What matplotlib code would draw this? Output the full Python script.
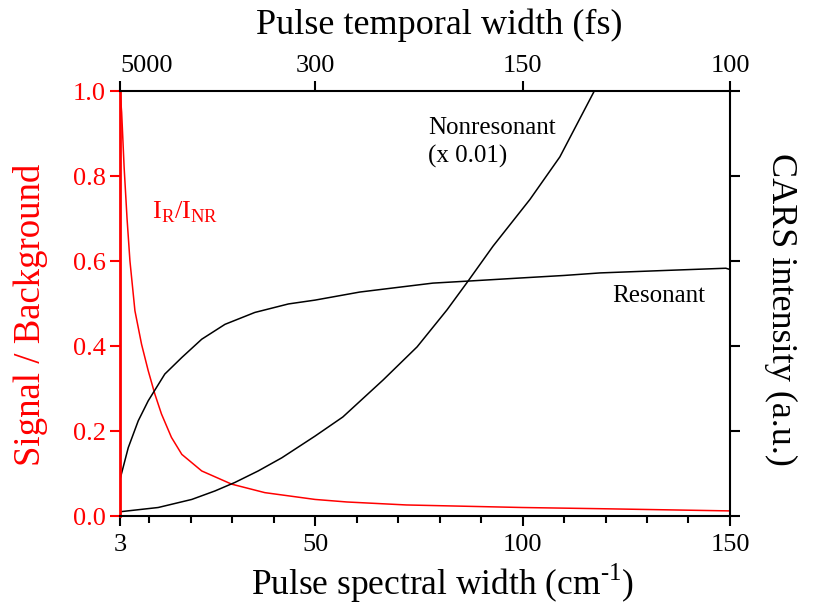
import numpy as np
import matplotlib
matplotlib.use("Agg")
import matplotlib.pyplot as plt

plt.rcParams['font.family'] = 'Liberation Serif'
plt.rcParams['mathtext.fontset'] = 'custom'
plt.rcParams['mathtext.rm'] = 'Liberation Serif'

# pulse spectral width (cm^-1) and the three curves
wn_ratio = [3, 3.4, 4.0, 4.7, 5.4, 6.6, 8.2, 9.8, 11.4, 13.0, 15.4, 17.9, 22.7, 29.9,
            37.9, 50, 57.7, 72, 100, 120, 150]
ratio = [1.0, 0.95, 0.82, 0.70, 0.60, 0.483, 0.404, 0.342, 0.287, 0.24, 0.185, 0.145,
         0.106, 0.075, 0.055, 0.039, 0.033, 0.026, 0.02, 0.017, 0.012]

wn_res = [3, 5.0, 7.4, 9.8, 13.8, 17.9, 22.7, 28.3, 35.5, 43.6, 50, 60.8, 70, 78.4,
          87.3, 99.4, 110, 118.7, 135, 149, 150]
resonant = [0.086, 0.161, 0.224, 0.271, 0.334, 0.373, 0.416, 0.451, 0.479, 0.499, 0.508,
            0.527, 0.538, 0.548, 0.553, 0.56, 0.566, 0.572, 0.578, 0.583, 0.58]

wn_nr = [3, 12.2, 20.3, 25.9, 30.7, 36.3, 42, 50, 56.7, 66.4, 74.6, 81.8, 86.9, 92.9,
         101.8, 109, 117.3]
nonres = [0.010, 0.020, 0.039, 0.059, 0.079, 0.106, 0.137, 0.188, 0.233, 0.32, 0.398,
          0.485, 0.553, 0.635, 0.745, 0.845, 1.0]

bottom_ticks = [3, 50, 100, 150]
top_labels = ['5000', '300', '150', '100']
y_ticks = [0.0, 0.2, 0.4, 0.6, 0.8, 1.0]

fig = plt.figure(figsize=(8.14, 6.08), dpi=100)
ax = fig.add_axes([0.1474, 0.1513, 0.7494, 0.6990])

ax.plot(wn_ratio, ratio, color='red', lw=1.1)
ax.plot(wn_res, resonant, color='black', lw=1.1)
ax.plot(wn_nr, nonres, color='black', lw=1.1)

ax.set_xlim(3, 150)
ax.set_ylim(0, 1.0)
ax.set_xticks(bottom_ticks)
ax.set_xticks(np.arange(10, 150, 10), minor=True)
ax.set_yticks(y_ticks)
ax.set_yticklabels(['%.1f' % v for v in y_ticks])

for s in ['top', 'bottom', 'right']:
    ax.spines[s].set_linewidth(1.5)
ax.spines['left'].set_color('red')
ax.spines['left'].set_linewidth(2.0)

ax.tick_params(axis='x', which='major', direction='out', length=7, width=1.5,
               labelsize=19, pad=6)
ax.tick_params(axis='x', which='minor', direction='out', length=5, width=1.5)
ax.tick_params(axis='y', direction='out', length=7, width=1.5, colors='red',
               labelsize=19, pad=3)

ax.set_xlabel('Pulse spectral width (cm$^{\\text{-1}}$)', fontsize=25.5, labelpad=4)
ax.xaxis.label.set_x(0.528)
ax.set_ylabel('Signal / Background', fontsize=26.5, color='red', labelpad=18)
ax.yaxis.label.set_y(0.473)

# top axis: equivalent pulse duration
ax_top = ax.twiny()
ax_top.set_xlim(ax.get_xlim())
ax_top.set_xticks(bottom_ticks)
ax_top.set_xticklabels(top_labels)
ax_top.tick_params(axis='x', direction='out', length=7, width=1.5, labelsize=19, pad=3)
ax_top.get_xticklabels()[0].set_ha('left')
ax_top.set_xlabel('Pulse temporal width (fs)', fontsize=26, labelpad=15)
ax_top.xaxis.label.set_x(0.523)
for s in ax_top.spines.values():
    s.set_visible(False)

# right axis: CARS intensity, no numbers
ax_r = ax.twinx()
ax_r.set_ylim(ax.get_ylim())
ax_r.set_yticks(y_ticks)
ax_r.set_yticklabels([])
ax_r.tick_params(axis='y', direction='out', length=7, width=1.5)
ax_r.set_ylabel('CARS intensity (a.u.)', fontsize=26, rotation=270, labelpad=38)
ax_r.yaxis.label.set_y(0.485)
for s in ax_r.spines.values():
    s.set_visible(False)

ax.text(10.7, 0.715, 'I$_\\mathregular{R}$/I$_\\mathregular{NR}$', color='red', fontsize=19,
        va='center', ha='left')
ax.text(77.2, 0.913, 'Nonresonant', fontsize=18, va='center', ha='left')
ax.text(77.2, 0.845, '(x 0.01)', fontsize=18, va='center', ha='left')
ax.text(121.5, 0.518, 'Resonant', fontsize=18, va='center', ha='left')

fig.savefig('out.png', dpi=100)
